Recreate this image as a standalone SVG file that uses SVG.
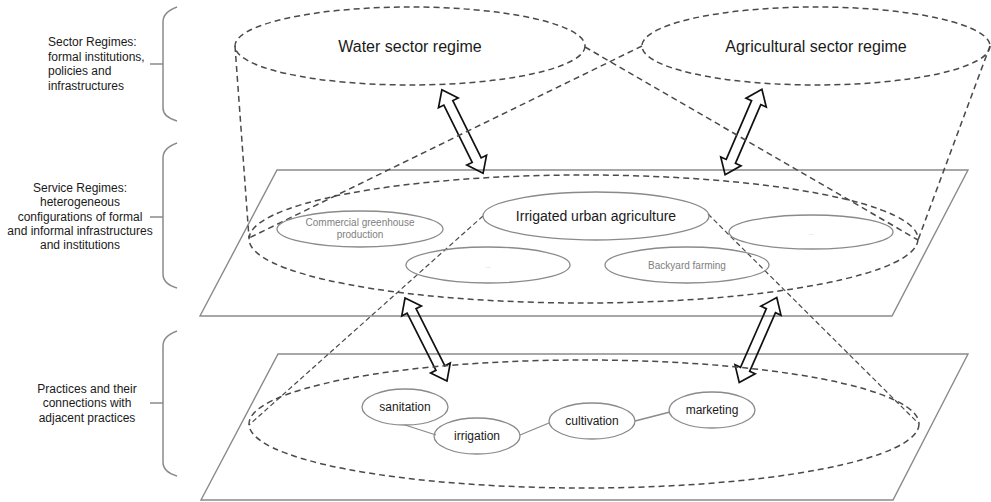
<svg xmlns="http://www.w3.org/2000/svg" width="991" height="502" viewBox="0 0 991 502">
<style>
text{font-family:"Liberation Sans",Arial,sans-serif;fill:#1a1a1a}
.lbl{font-size:12px}
.big{font-size:16px}
.mid{font-size:14px}
.grey{font-size:10px;fill:#808080}
.pr{font-size:12px}
.brace{fill:none;stroke:#8a8a8a;stroke-width:1.5}
.plane{fill:none;stroke:#8a8a8a;stroke-width:1.4}
.dash{fill:none;stroke:#4a4a4a;stroke-width:1.5;stroke-dasharray:6 4}
.thin{fill:none;stroke:#4a4a4a;stroke-width:1.2;stroke-dasharray:5 3}
.node{fill:none;stroke:#8a8a8a;stroke-width:1.3}
.link{fill:none;stroke:#8a8a8a;stroke-width:1.3}
.arr{fill:none;stroke:#111;stroke-width:1.7;stroke-linejoin:miter}
</style>
<defs>
<polygon id="dbl" points="-46.5,0 -32,-11 -32,-5 32,-5 32,-11 46.5,0 32,11 32,5 -32,5 -32,11"/>
</defs>
<rect width="991" height="502" fill="#fff"/>

<g id="legend">
<path class="brace" d="M177,7 Q163,12 163,22 L163,108 Q163,117 177,121 M150,64 L163,64"/>
<path class="brace" d="M177,143 Q163,148 163,158 L163,274 Q163,284 177,288 M150,217 L163,217"/>
<path class="brace" d="M177,331 Q163,336 163,346 L163,462 Q163,472 177,476 M150,403 L163,403"/>
<text class="lbl" x="48" y="46">Sector Regimes:</text>
<text class="lbl" x="48" y="61">formal institutions,</text>
<text class="lbl" x="48" y="75">policies and</text>
<text class="lbl" x="48" y="90">infrastructures</text>
<g text-anchor="middle">
<text class="lbl" x="80" y="192">Service Regimes:</text>
<text class="lbl" x="80" y="206">heterogeneous</text>
<text class="lbl" x="80" y="221">configurations of formal</text>
<text class="lbl" x="80" y="235">and informal infrastructures</text>
<text class="lbl" x="80" y="249">and institutions</text>
<text class="lbl" x="87" y="393">Practices and their</text>
<text class="lbl" x="87" y="407">connections with</text>
<text class="lbl" x="87" y="422">adjacent practices</text>
</g>
</g>

<g id="service-plane"><polygon class="plane" points="277,170 968,170 892,316 200,316"/></g>
<g id="practice-plane"><polygon class="plane" points="278,354 968,354 893,500 201,500"/></g>

<g id="connectors">
<use href="#dbl" class="arr" transform="translate(462.5,131.5) rotate(63.7)"/>
<use href="#dbl" class="arr" transform="translate(743.5,132) rotate(113.3)"/>
<use href="#dbl" class="arr" transform="translate(426,339.5) rotate(63.2)"/>
<use href="#dbl" class="arr" transform="translate(758,340) rotate(113.8)"/>
<path class="dash" d="M235,46 L249,238"/>
<path class="dash" d="M585,47 L918,240"/>
<path class="dash" d="M642,46 L249,238"/>
<path class="dash" d="M990,46 L918,240"/>
<path class="thin" d="M483,216 L249,425"/>
<path class="thin" d="M708,214 L918,423"/>
<path class="link" d="M405,425 L436,435"/>
<path class="link" d="M520,435 L549,423"/>
<path class="link" d="M635,421 L670,412"/>
</g>

<g id="water-sector">
<ellipse class="dash" cx="410" cy="46" rx="175" ry="39"/>
<text class="big" x="410" y="52" text-anchor="middle">Water sector regime</text>
</g>
<g id="agri-sector">
<ellipse class="dash" cx="816" cy="46" rx="174" ry="39"/>
<text class="big" x="816" y="52" text-anchor="middle">Agricultural sector regime</text>
</g>

<g id="service-area"><ellipse class="dash" cx="583.5" cy="239" rx="334.5" ry="64"/></g>
<g id="irrigated">
<ellipse class="node" cx="596" cy="216" rx="113" ry="24"/>
<text class="mid" x="596" y="221" text-anchor="middle">Irrigated urban agriculture</text>
</g>
<g id="greenhouse">
<ellipse class="node" cx="360" cy="229" rx="83" ry="18"/>
<text class="grey" x="360" y="226" text-anchor="middle">Commercial greenhouse</text>
<text class="grey" x="360" y="238" text-anchor="middle">production</text>
</g>
<g id="other1">
<ellipse class="node" cx="488" cy="265" rx="82" ry="18"/>
<text x="488" y="268" text-anchor="middle" style="font-size:6px;fill:#aaa">...</text>
</g>
<g id="other2">
<ellipse class="node" cx="811" cy="232" rx="82" ry="17"/>
<text x="811" y="235" text-anchor="middle" style="font-size:6px;fill:#aaa">...</text>
</g>
<g id="backyard">
<ellipse class="node" cx="687" cy="265" rx="82" ry="18"/>
<text class="grey" x="687" y="269" text-anchor="middle">Backyard farming</text>
</g>

<g id="practice-area"><ellipse class="dash" cx="584" cy="424" rx="335" ry="64"/></g>
<g id="sanitation">
<ellipse class="node" cx="405" cy="407" rx="43" ry="18"/>
<text class="pr" x="405" y="411" text-anchor="middle">sanitation</text>
</g>
<g id="irrigation">
<ellipse class="node" cx="477" cy="436" rx="43" ry="18"/>
<text class="pr" x="477" y="440" text-anchor="middle">irrigation</text>
</g>
<g id="cultivation">
<ellipse class="node" cx="592" cy="421" rx="43" ry="18"/>
<text class="pr" x="592" y="425" text-anchor="middle">cultivation</text>
</g>
<g id="marketing">
<ellipse class="node" cx="712" cy="410" rx="43" ry="18"/>
<text class="pr" x="712" y="414" text-anchor="middle">marketing</text>
</g>
</svg>
